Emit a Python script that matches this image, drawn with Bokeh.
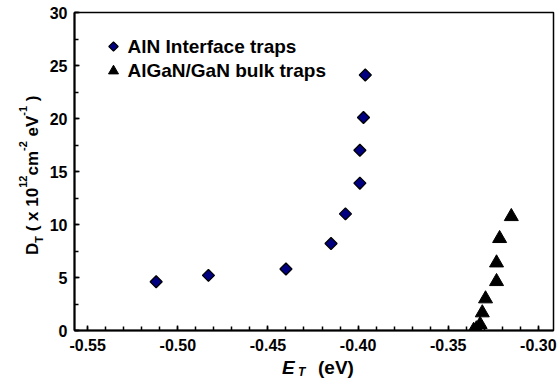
import numpy as np
from bokeh.plotting import figure
from bokeh.layouts import row, column
from bokeh.models import Range1d, SingleIntervalTicker, NumeralTickFormatter, Div
from bokeh.core.properties import value
from bokeh.embed import file_html
from bokeh.resources import INLINE

# ---- data ----
aln_E = [-0.512, -0.483, -0.440, -0.415, -0.407, -0.399, -0.399, -0.397, -0.396]
aln_D = [4.6, 5.2, 5.8, 8.2, 11.0, 13.9, 17.0, 20.1, 24.1]

bulk_E = [-0.3150, -0.3215, -0.3232, -0.3232, -0.3293, -0.3311, -0.3323, -0.3344, -0.3359]
bulk_D = [10.75, 8.68, 6.38, 4.62, 2.99, 1.67, 0.57, 0.16, 0.02]

series_names = ["AlN Interface traps", "AlGaN/GaN bulk traps"]
x_tick_format = "0.00"

FONT = "Liberation Sans"
XR = (-0.5573, -0.2916)
YR = (0, 30)

LEFT_W = 46          # width of the y-title strip
MAIN_H = 358         # height of the plot row
FL, FR, FT, FB = 74, 553, 12, 330   # frame edges in page pixels

p = figure(width=558 - LEFT_W, height=MAIN_H, output_backend="svg", title=None,
           toolbar_location=None, x_range=Range1d(*XR), y_range=Range1d(*YR),
           min_border_left=FL - LEFT_W, min_border_right=558 - FR,
           min_border_top=FT, min_border_bottom=MAIN_H - FB)
p.background_fill_color = "white"
p.border_fill_color = "white"
p.outline_line_color = "black"
p.outline_line_width = 1.5
p.xgrid.visible = False
p.ygrid.visible = False

p.scatter(aln_E, aln_D, marker="square", angle=np.pi / 4, size=8.5,
          fill_color="#000080", line_color="black", line_width=1.3)
p.scatter(bulk_E, bulk_D, marker="triangle", size=14,
          fill_color="black", line_color="black", line_width=1)

for ax in (p.xaxis[0], p.yaxis[0]):
    ax.axis_line_width = 2
    ax.axis_line_color = "black"
    ax.major_tick_in = 5
    ax.major_tick_out = 0
    ax.minor_tick_in = 4
    ax.minor_tick_out = 0
    ax.major_tick_line_width = 1.5
    ax.minor_tick_line_width = 1.5
    ax.major_label_text_font = FONT
    ax.major_label_text_font_style = "bold"
    ax.major_label_text_font_size = "16px"
    ax.major_label_text_color = "black"

p.xaxis[0].ticker = SingleIntervalTicker(interval=0.05, num_minor_ticks=5)
p.xaxis[0].formatter = NumeralTickFormatter(format=x_tick_format)
p.xaxis[0].major_label_standoff = 8
p.yaxis[0].ticker = SingleIntervalTicker(interval=5, num_minor_ticks=2)
p.yaxis[0].major_label_standoff = 7


# ---- legend (key markers placed by page pixel, converted to data units) ----
def px_x(cx):
    return XR[0] + (cx - FL) / (FR - FL) * (XR[1] - XR[0])


def px_y(cy):
    return YR[0] + (FB - cy) / (FB - FT) * (YR[1] - YR[0])


key_x = px_x(113)
p.scatter([key_x], [px_y(46)], marker="square", angle=np.pi / 4, size=6.6,
          fill_color="#000080", line_color="black", line_width=1.2)
p.scatter([key_x], [px_y(70.5)], marker="triangle", size=10,
          fill_color="black", line_color="black", line_width=1)
p.text(x=[px_x(127), px_x(127)], y=[px_y(46), px_y(69.5)], text=series_names,
       text_font=value(FONT), text_font_style="bold", text_font_size="19px",
       text_color="black", text_align="left", text_baseline="middle")

# ---- y-title: D_T ( x 10^12 cm^-2 eV^-1 ), rotated HTML text ----
SUB = 'style="font-size:11px;position:relative;top:5px;line-height:0;"'
SUP = 'style="font-size:11px;position:relative;top:-11px;line-height:0;"'
yt_html = (
    '<div style="position:relative;width:%dpx;height:%dpx;'
    'font-family:\'Liberation Sans\';font-weight:bold;color:black;">'
    '<span style="position:absolute;left:23.6px;top:255px;'
    'transform:rotate(-90deg);transform-origin:0 0;white-space:nowrap;'
    'font-size:17px;line-height:17px;">'
    'D<span %s>T</span> ( x 10<span %s>12</span>cm<span %s>-2</span>'
    ' eV<span %s>-1</span> )</span></div>'
    % (LEFT_W, MAIN_H, SUB, SUP, SUP, SUP)
)
yt = Div(text=yt_html, width=LEFT_W, height=MAIN_H, margin=0)

# ---- x-title: E_T (eV) as an HTML strip ----
XT_H = 379 - MAIN_H
xt_html = (
    '<div style="position:relative;width:558px;height:%dpx;'
    'font-family:\'Liberation Sans\';font-weight:bold;color:black;'
    'white-space:nowrap;">'
    '<span style="position:absolute;left:282px;top:0px;font-size:19px;'
    'line-height:19px;font-style:italic;">E</span>'
    '<span style="position:absolute;left:298px;top:8px;font-size:12px;'
    'line-height:12px;font-style:italic;">T</span>'
    '<span style="position:absolute;left:318px;top:0px;font-size:19px;'
    'line-height:19px;">(eV)</span>'
    '</div>' % XT_H
)
xt = Div(text=xt_html, width=558, height=XT_H, margin=0)

layout = column(row(yt, p), xt)
open("out.html", "w").write(file_html(layout, INLINE))
